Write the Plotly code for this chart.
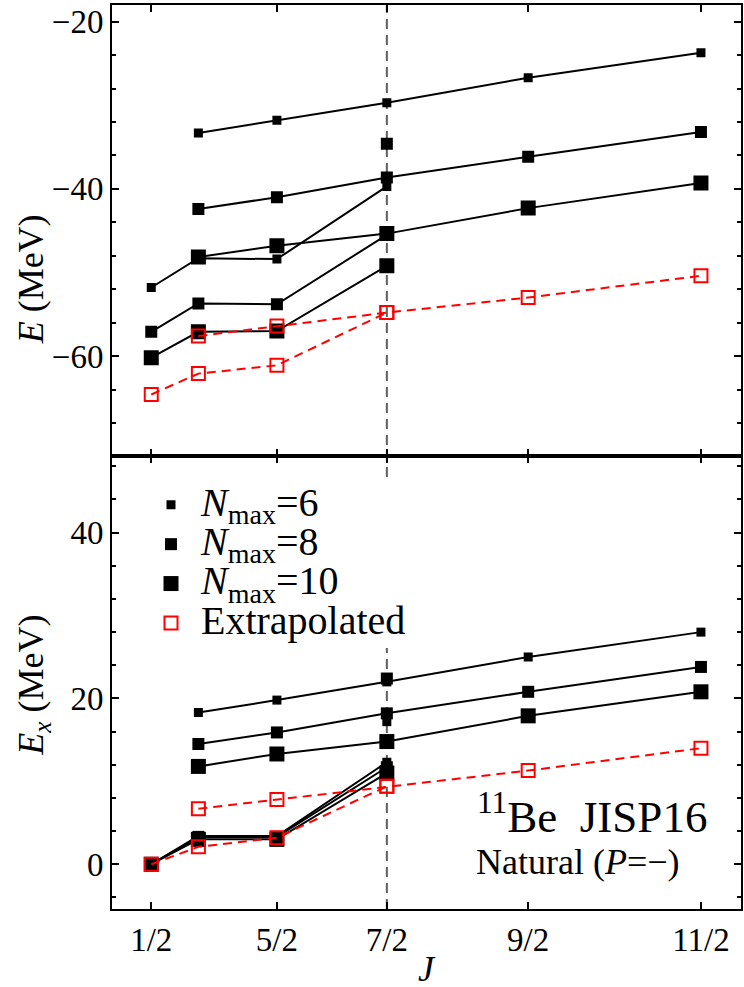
import plotly.graph_objects as go
from plotly.subplots import make_subplots

# Angular momentum J of each state; the x axis is linear in J(J+1)
J_A = [0.5, 1.5, 2.5, 3.5]            # 1/2- ... 7/2- sequence
J_B = [1.5, 2.5, 3.5, 4.5, 5.5]       # 3/2- ... 11/2- sequence
J_EXTRA = [3.5]                       # additional 7/2- state

TICK_J = [0.5, 2.5, 3.5, 4.5, 5.5]
TICK_TEXT = ["1/2", "5/2", "7/2", "9/2", "11/2"]

# Total energies E (MeV)
E6_A = [-51.8, -48.3, -48.4, -39.7]
E6_B = [-33.3, -31.8, -29.7, -26.7, -23.7]
E6_X = [-34.5]
E8_A = [-57.1, -53.7, -53.8, -45.5]
E8_B = [-42.4, -41.0, -38.65, -36.15, -33.2]
E8_X = [-34.6]
E10_A = [-60.2, -57.1, -57.0, -49.2]
E10_B = [-48.15, -46.8, -45.35, -42.3, -39.3]
EEX_A = [-64.6, -62.1, -61.1, -54.8]
EEX_B = [-57.6, -56.4, -54.8, -53.0, -50.4]

# Excitation energies Ex (MeV)
X6_A = [0.0, 3.4, 3.4, 12.3]
X6_B = [18.3, 19.8, 22.0, 25.0, 28.0]
X6_X = [17.2]
X8_A = [0.0, 3.3, 3.3, 11.7]
X8_B = [14.5, 15.9, 18.2, 20.8, 23.8]
X8_X = [22.4]
X10_A = [0.0, 3.0, 3.0, 11.0]
X10_B = [11.8, 13.3, 14.8, 17.9, 20.8]
XEX_A = [0.0, 2.1, 3.2, 9.4]
XEX_B = [6.7, 7.8, 9.4, 11.3, 14.0]

LEGEND_NAMES = ["<i>N</i><sub>max</sub>=6", "<i>N</i><sub>max</sub>=8",
                "<i>N</i><sub>max</sub>=10", "Extrapolated"]


def jj1(js):
    return [j * (j + 1) for j in js]


FONT = "Liberation Serif"
RED = "#ff0000"
STYLES = [
    dict(marker=dict(symbol="square", size=9, color="black"),
         line=dict(color="black", width=2)),
    dict(marker=dict(symbol="square", size=12, color="black"),
         line=dict(color="black", width=2)),
    dict(marker=dict(symbol="square", size=15, color="black"),
         line=dict(color="black", width=2)),
    dict(marker=dict(symbol="square-open", size=13, color=RED,
                     line=dict(color=RED, width=2)),
         line=dict(color=RED, width=2, dash="9px,6px")),
]

fig = make_subplots(rows=2, cols=1, shared_xaxes=True, vertical_spacing=0)

panels = [
    (1, [(E6_A, E6_B, E6_X), (E8_A, E8_B, E8_X), (E10_A, E10_B, None), (EEX_A, EEX_B, None)]),
    (2, [(X6_A, X6_B, X6_X), (X8_A, X8_B, X8_X), (X10_A, X10_B, None), (XEX_A, XEX_B, None)]),
]

for row, groups in panels:
    for k, (ya, yb, yx) in enumerate(groups):
        st = STYLES[k]
        for js, ys in ((J_A, ya), (J_B, yb)):
            fig.add_trace(go.Scatter(x=jj1(js), y=ys, mode="lines+markers",
                                     marker=st["marker"], line=st["line"],
                                     showlegend=False, hoverinfo="skip"),
                          row=row, col=1)
        if yx is not None:
            fig.add_trace(go.Scatter(x=jj1(J_EXTRA), y=yx, mode="markers",
                                     marker=st["marker"], showlegend=False,
                                     hoverinfo="skip"),
                          row=row, col=1)

# legend entries (marker only)
for k, name in enumerate(LEGEND_NAMES):
    fig.add_trace(go.Scatter(x=[None], y=[None], mode="markers",
                             marker=STYLES[k]["marker"],
                             name="<span style='font-size:40px'> " + name + "</span>",
                             showlegend=True),
                  row=2, col=1)

x_range = [-1.75, 38.3]
axis_common = dict(showline=True, linecolor="black", linewidth=2, mirror="ticks",
                   ticks="inside", ticklen=7, tickwidth=1.5, tickcolor="black",
                   showgrid=False, zeroline=False,
                   tickfont=dict(family=FONT, size=33, color="black"))

fig.update_xaxes(range=x_range, tickvals=jj1(TICK_J), ticktext=TICK_TEXT, **axis_common)
fig.update_xaxes(showticklabels=False, row=1, col=1)

y_minor = dict(dtick=4, tick0=0, ticks="inside", ticklen=4, tickwidth=1.5,
               tickcolor="black", showgrid=False)
fig.update_yaxes(range=[-72, -18], tick0=0, dtick=20, minor=y_minor,
                 domain=[0.5007, 1.0], row=1, col=1, **axis_common)
fig.update_yaxes(range=[-5.4, 49.2], tick0=0, dtick=20, minor=y_minor,
                 domain=[0.0, 0.5007], row=2, col=1, **axis_common)

# vertical marker at J = 7/2 through both panels
fig.add_shape(type="line", xref="x", yref="paper", x0=3.5 * 4.5, x1=3.5 * 4.5,
              y0=0, y1=1, line=dict(color="#5e5e5e", width=2, dash="10px,6px"),
              layer="below")

ann_font = dict(family=FONT, color="black")
fig.add_annotation(text="<i>E</i> (MeV)", xref="paper", yref="paper",
                   x=-0.1295, y=0.696, xanchor="center", yanchor="middle",
                   textangle=-90, showarrow=False,
                   font=dict(size=36, **ann_font))
fig.add_annotation(text="<i>E<sub>x</sub></i> (MeV)", xref="paper", yref="paper",
                   x=-0.124, y=0.247, xanchor="center", yanchor="middle",
                   textangle=-90, showarrow=False,
                   font=dict(size=36, **ann_font))
fig.add_annotation(text="<i>J</i>", xref="paper", yref="paper", x=0.5, y=-0.066,
                   xanchor="center", yanchor="middle",
                   showarrow=False, font=dict(size=36, **ann_font))
fig.add_annotation(text="<sup>11</sup>Be  JISP16", xref="paper", yref="paper",
                   x=(476 - 111.7) / 631, y=0.106, xanchor="left", yanchor="middle",
                   showarrow=False, font=dict(size=45, **ann_font))
fig.add_annotation(text="Natural (<i>P</i>=\u2212)", xref="paper", yref="paper",
                   x=(475 - 111.7) / 631, y=0.0524, xanchor="left", yanchor="middle",
                   showarrow=False, font=dict(size=36, **ann_font))

fig.update_layout(
    width=744, height=987,
    margin=dict(l=112, r=1, t=5, b=78),
    paper_bgcolor="white", plot_bgcolor="white",
    font=dict(family=FONT, color="black"),
    legend=dict(x=0.062, y=0.4745, xanchor="left", yanchor="top",
                bgcolor="white", borderwidth=0,
                font=dict(family=FONT, size=28, color="black"),
                tracegroupgap=0),
)

fig.write_html("out.html")
